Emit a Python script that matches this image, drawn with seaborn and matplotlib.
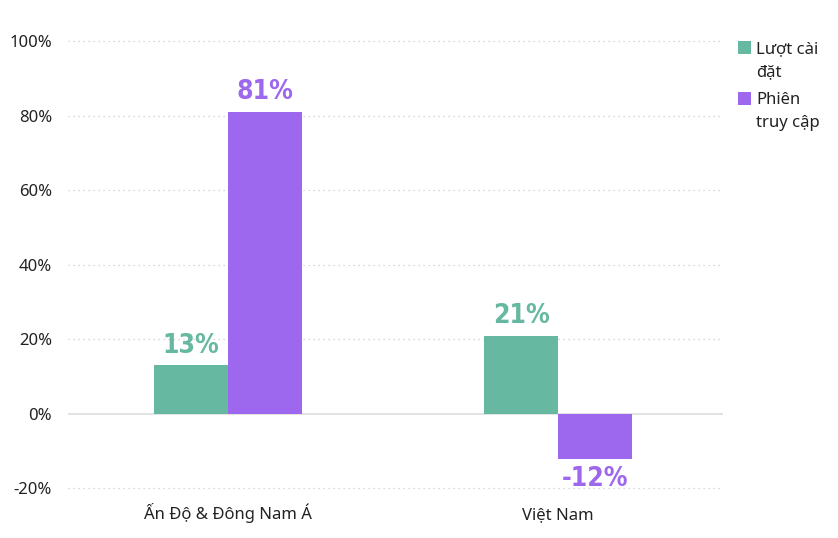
import matplotlib
matplotlib.use("Agg")
import matplotlib.pyplot as plt
import matplotlib.transforms as mtransforms
import seaborn as sns
import pandas as pd
from matplotlib.patches import Rectangle

categories = ["Ấn Độ & Đông Nam Á", "Việt Nam"]
series_names = ["Lượt cài\nđặt", "Phiên\ntruy cập"]
installs = [13, 21]
sessions = [81, -12]
y_ticks = [-20, 0, 20, 40, 60, 80, 100]
colors = ["#66b9a0", "#9d67ee"]

sns.set_theme(style="white")
plt.rcParams['font.family'] = ['Noto Sans', 'DejaVu Sans']

W, H = 838, 538
df = pd.DataFrame({
    "cat": categories * 2,
    "series": [series_names[0]] * 2 + [series_names[1]] * 2,
    "val": installs + sessions,
})

fig = plt.figure(figsize=(W/100, H/100), dpi=100)
ax = fig.add_axes([68/W, 1-507/H, (723-68)/W, (507-34)/H])

sns.barplot(data=df, x="cat", y="val", hue="series", palette=colors,
            width=0.448, gap=0, ax=ax, legend=False, saturation=1, linewidth=0)

ax.set_xlim(-0.485, 1.5)
ax.set_ylim(-25, 102)
ax.set_yticks(y_ticks)
ax.set_yticklabels([f"{t}%" for t in y_ticks], fontsize=12, color="#222222")
ax.tick_params(axis="y", length=0, pad=11.5)
ax.set_xticks(range(len(categories)))
ax.set_xticklabels([])
ax.tick_params(axis="x", length=0)
ax.set_xlabel("")
ax.set_ylabel("")
for s in ax.spines.values():
    s.set_visible(False)

# category labels on a common baseline
trans = mtransforms.blended_transform_factory(ax.transData, ax.transAxes)
for i, c in enumerate(categories):
    ax.text(i, (507-519)/473, c, transform=trans, ha="center", va="baseline",
            fontsize=12, color="#222222", clip_on=False)

for t in y_ticks:
    if t == 0:
        ax.axhline(0, color="#dddddd", lw=1.2, zorder=0)
    else:
        ax.axhline(t, color="#cccccc", lw=0.9, ls=(0, (1, 3)), zorder=0)

for cont, col in zip(ax.containers, colors):
    ax.bar_label(cont, labels=[f"{v:.0f}%" for v in cont.datavalues], padding=5,
                 color=col, fontsize=19, fontweight="bold",
                 fontstretch="condensed", family=['DejaVu Sans'])

# legend (squares aligned to first text line)
legend_tops = [41, 92]
line_gap = 23
for top, col, name in zip(legend_tops, colors, series_names):
    fig.patches.append(Rectangle((738/W, 1-(top+13)/H), 13/W, 13/H,
                                 transform=fig.transFigure, facecolor=col,
                                 edgecolor="none"))
    for k, line in enumerate(name.split("\n")):
        fig.text(756/W, 1-(top+12+k*line_gap)/H, line, ha="left", va="baseline",
                 fontsize=12, color="#222222")

fig.savefig("out.png", dpi=100)
